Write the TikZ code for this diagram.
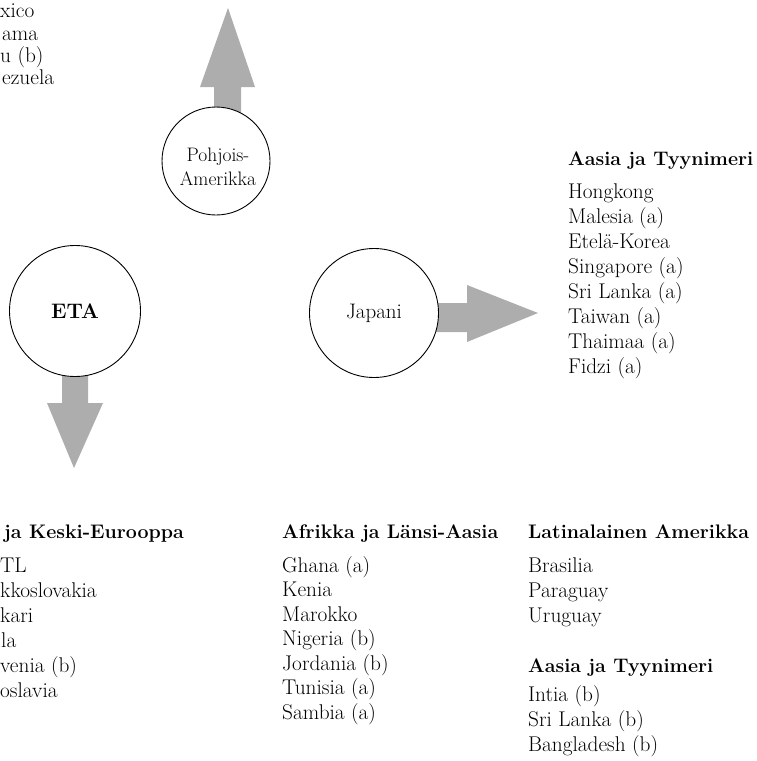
\documentclass[tikz,border=0pt]{standalone}
\begin{document}
\begin{tikzpicture}[x=1pt,y=-1pt,
  land/.style={draw,line width=0.9pt,fill=white,circle,inner sep=0pt,align=center,
    font=\fontsize{21}{25}\selectfont},
  flow/.style={fill=black!32,draw=none},
  head/.style={anchor=west,inner sep=0pt,text height=14pt,text depth=4pt,
    font=\fontsize{19.6}{23}\selectfont\bfseries},
  item/.style={anchor=west,inner sep=0pt,text height=14pt,text depth=4pt,
    font=\fontsize{21.3}{25}\selectfont}]
  \useasboundingbox (0,0) rectangle (756,761);

  % flows out of the three centres
  \draw[flow] (214,120) -- (214,87) -- (200,87) -- (228,8) -- (255,87) -- (241,87) -- (241,120) -- cycle;
  \draw[flow] (62,370) -- (62,403) -- (47,403) -- (74,468) -- (103,403) -- (88,403) -- (88,370) -- cycle;
  \draw[flow] (430,303) -- (467,303) -- (467,285) -- (538,313) -- (467,342) -- (467,332) -- (430,332) -- cycle;

  \node[land,minimum size=108pt] (pam) at (216,161) {};
  \node[align=center,font=\fontsize{19.5}{24}\selectfont] (pamtxt) at (218,167) {Pohjois-\\Amerikka};
  \node[land,minimum size=131pt,font=\fontsize{21}{25}\selectfont\bfseries] (eta) at (75,311) {ETA};
  \node[land,minimum size=129pt] (jap) at (374,313) {Japani};

  % top left, cut by the page edge
  \node[item] (lat1) at (0,12) {xico};
  \node[item] (lat2) at (2,35) {ama};
  \node[item] (lat3) at (0,57) {u (b)};
  \node[item] (lat4) at (2,79) {ezuela};

  % Asia, right of Japan
  \node[head] (asia) at (568,160) {Aasia ja Tyynimeri};
  \foreach \t [count=\i] in {Hongkong,Malesia (a),Etelä-Korea,Singapore (a),
      Sri Lanka (a),Taiwan (a),Thaimaa (a),Fidzi (a)}
    \node[item] (asia-\i) at (568,{193+25*(\i-1)}) {\t};

  % bottom row
  \node[head] (eur) at (4,533) {ja Keski-Eurooppa};
  \node[item] (eur-1) at (0,567) {TL};
  \node[item] (eur-2) at (0,592) {kkoslovakia};
  \node[item] (eur-3) at (0,617) {kari};
  \node[item] (eur-4) at (1,642) {la};
  \node[item] (eur-5) at (0,667) {venia (b)};
  \node[item] (eur-6) at (0,692) {oslavia};

  \node[head] (afr) at (282,533) {Afrikka ja Länsi-Aasia};
  \foreach \t [count=\i] in {Ghana (a),Kenia,Marokko,Nigeria (b),Jordania (b),
      Tunisia (a),Sambia (a)}
    \node[item] (afr-\i) at (282,{567+24.5*(\i-1)}) {\t};

  \node[head] (lam) at (528,533) {Latinalainen Amerikka};
  \foreach \t [count=\i] in {Brasilia,Paraguay,Uruguay}
    \node[item] (lam-\i) at (528,{567+25*(\i-1)}) {\t};

  \node[head] (asb) at (528,667) {Aasia ja Tyynimeri};
  \foreach \t [count=\i] in {Intia (b),Sri Lanka (b),Bangladesh (b)}
    \node[item] (asb-\i) at (528,{696+25*(\i-1)}) {\t};
\end{tikzpicture}
\end{document}
